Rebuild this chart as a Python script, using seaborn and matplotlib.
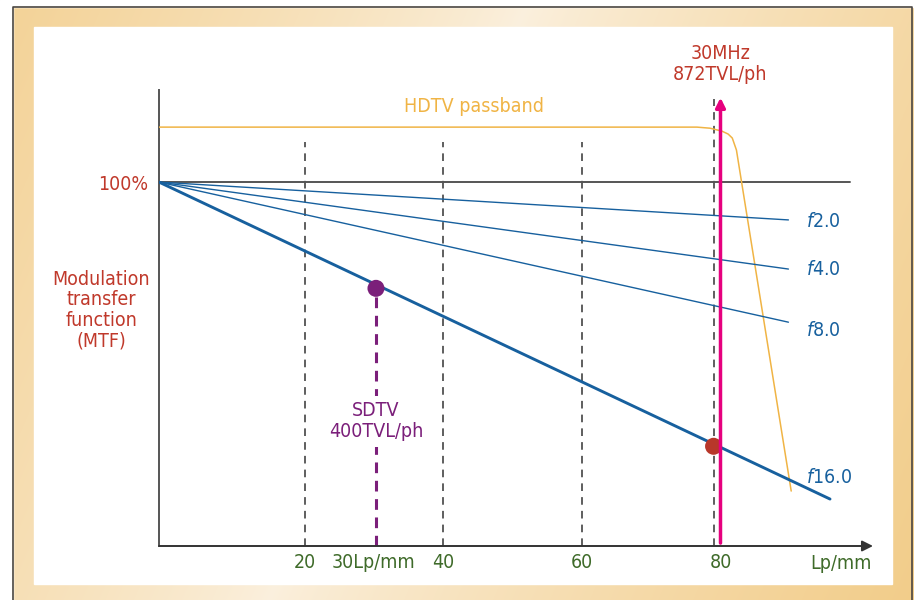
import matplotlib
matplotlib.use("Agg")
import matplotlib.pyplot as plt
import seaborn as sns
import numpy as np
import pandas as pd

# MTF curves: (Lp/mm, MTF %)
f_numbers = ["2.0", "4.0", "8.0", "16.0"]
mtf_x = [[-1, 89.8], [-1, 89.8], [-1, 89.8], [-1, 95.8]]
mtf_y = [[100, 89.6], [100, 76.1], [100, 61.5], [100, 12.9]]

# HDTV passband curve
hdtv_x = [-1, 76.6, 78.5, 80.2, 81.1, 81.7, 82.3, 90.2]
hdtv_y = [115.1, 115.1, 114.8, 114.0, 113.2, 112.1, 108.8, 15.1]

# markers
sdtv_point = (30.3, 70.8)
hdtv_point = (79, 27.4)

grid_x = [20, 40, 60]
tick_vals = [20, 40, 60, 80]

BLUE = "#17609e"
RED = "#c0392b"
PURPLE = "#7b1f7a"
MAGENTA = "#e6007e"
ORANGE = "#f0b445"
GREEN = "#3f6b2a"
GRAY = "#555555"

sns.set_style("white")
plt.rcParams['font.family'] = ['DejaVu Sans']
plt.rcParams['font.stretch'] = 'condensed'
plt.rcParams['mathtext.fontset'] = 'custom'
plt.rcParams['mathtext.it'] = 'DejaVu Sans:italic'
plt.rcParams['mathtext.rm'] = 'DejaVu Sans'

FS = 14

fig = plt.figure(figsize=(9.14, 6.0), dpi=100)
fig.patch.set_facecolor("white")

# gradient frame background
bg = fig.add_axes([0, 0, 1, 1], zorder=0)
bg.set_axis_off()
W, H = 914, 600
xx, yy = np.meshgrid(np.arange(W), np.arange(H))
t = (600 * xx + 260 * yy) / 704400.0
pale = np.array([251, 240, 222]) / 255
deep = np.array([242, 205, 138]) / 255
w = np.clip(np.abs(t - 0.45) / 0.55, 0, 1) ** 0.8
img = pale[None, None, :] * (1 - w[..., None]) + deep[None, None, :] * w[..., None]
bg.imshow(img, extent=[0, W, H, 0], aspect='auto')
bg.set_xlim(0, W)
bg.set_ylim(H, 0)
bg.add_patch(plt.Rectangle((0, 0), 13, H, color="white", zorder=2))
bg.add_patch(plt.Rectangle((0, 0), W, 7, color="white", zorder=2))
bg.plot([13, 13, 912, 912], [H, 7, 7, H], color="#4a4540", lw=1.2, zorder=3)
bg.add_patch(plt.Rectangle((34, 27), 858, 557, color="white", zorder=3))

# main axes: left edge px 159, right px 873, bottom px 546, top px 90
ax = fig.add_axes([159 / W, 54 / H, 714 / W, 456 / H], zorder=1)
ax.patch.set_alpha(0.0)
ax.set_xlim(-1, 102.0)
ax.set_ylim(0, 125.3)

# dashed grid verticals
for gx in grid_x:
    ax.plot([gx, gx], [0, 111], color="#333333", lw=1.1, ls=(0, (5, 4)), zorder=1)
ax.plot([79, 79], [0, 122.8], color="#333333", lw=1.1, ls=(0, (5, 4)), zorder=1)

# 100% reference line
ax.plot([-1, 98.7], [100, 100], color=GRAY, lw=1.4, zorder=2)

# HDTV passband
sns.lineplot(x=hdtv_x, y=hdtv_y, color=ORANGE, lw=1.1, sort=False, ax=ax, zorder=3)

# MTF lines
rows = []
for fn, xs, ys in zip(f_numbers, mtf_x, mtf_y):
    for x, y in zip(xs, ys):
        rows.append({"f": fn, "x": x, "y": y})
df = pd.DataFrame(rows)
pal = {fn: BLUE for fn in f_numbers}
sns.lineplot(data=df, x="x", y="y", hue="f", size="f",
             sizes={"2.0": 1.0, "4.0": 1.0, "8.0": 1.0, "16.0": 2.1},
             palette=pal, legend=False, ax=ax, zorder=4)

label_pos = {"2.0": (92.3, 89.3), "4.0": (92.3, 76.1), "8.0": (92.3, 59.3), "16.0": (92.4, 18.7)}
for fn in f_numbers:
    lx, ly = label_pos[fn]
    ax.text(lx, ly, r"$\mathit{f}$" + fn, color=BLUE, fontsize=FS, va="center", ha="left")

# SDTV marker + dashed drop line
ax.plot([sdtv_point[0]] * 2, [0, sdtv_point[1]], color=PURPLE, lw=2.2,
        ls=(0, (3.5, 2.5)), zorder=3)
sns.scatterplot(x=[sdtv_point[0]], y=[sdtv_point[1]], color=PURPLE, s=150,
                edgecolor="none", ax=ax, zorder=6)
ax.text(sdtv_point[0], 34.3, "SDTV\n400TVL/ph", color=PURPLE, fontsize=FS,
        ha="center", va="center", linespacing=1.1,
        bbox=dict(facecolor="white", edgecolor="none", pad=4), zorder=5)

# HDTV marker
sns.scatterplot(x=[hdtv_point[0]], y=[hdtv_point[1]], color="#b8372a", s=150,
                edgecolor="none", ax=ax, zorder=5)

# 30MHz arrow
ax.annotate("", xy=(80, 123.2), xytext=(80, 0.8),
            arrowprops=dict(arrowstyle="-|>", color=MAGENTA, lw=2.5,
                            mutation_scale=14, shrinkA=0, shrinkB=0), zorder=7)
ax.text(80, 132.4, "30MHz\n872TVL/ph", color=RED, fontsize=FS, ha="center",
        va="center", linespacing=1.1, clip_on=False)

ax.text(44.4, 120.9, "HDTV passband", color=ORANGE, fontsize=FS, ha="center", va="center")

# axes styling
for s in ["top", "right", "bottom"]:
    ax.spines[s].set_visible(False)
ax.spines["left"].set_color(GRAY)
ax.spines["left"].set_linewidth(1.4)
ax.annotate("", xy=(102.0, 0), xytext=(-1, 0), annotation_clip=False,
            arrowprops=dict(arrowstyle="-|>", color="#333333", lw=1.4,
                            mutation_scale=16, shrinkA=0, shrinkB=0))

ax.set_xticks(tick_vals)
ax.set_xticklabels([str(v) for v in tick_vals])
ax.set_yticks([100])
ax.set_yticklabels(["100%"])
ax.tick_params(axis="x", length=0, pad=5, labelsize=FS, labelcolor=GREEN)
ax.tick_params(axis="y", length=0, pad=8, labelsize=FS, labelcolor=RED)
ax.set_xlabel("")
ax.set_ylabel("")

ax.text(30, -4.6, "30Lp/mm", color=GREEN, fontsize=FS, ha="center", va="center", clip_on=False)
ax.text(97.4, -4.8, "Lp/mm", color=GREEN, fontsize=FS, ha="center", va="center", clip_on=False)
ax.text(-9.3, 64.8, "Modulation\ntransfer\nfunction\n(MTF)", color=RED, fontsize=FS,
        ha="center", va="center", linespacing=1.1, clip_on=False)

fig.savefig("out.png", dpi=100)
plt.close(fig)
